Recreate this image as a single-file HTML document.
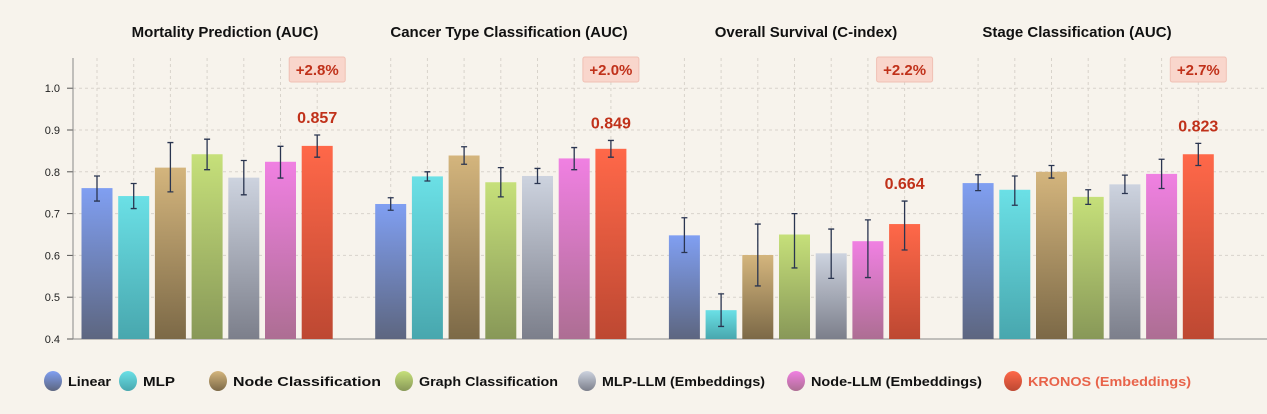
<!DOCTYPE html>
<html><head><meta charset="utf-8"><style>
body{margin:0;background:#f7f3ec;}
svg{display:block;font-family:"Liberation Sans",sans-serif;}
</style></head><body>
<svg id="c" width="1267" height="414"></svg>
<script>
const panels=["Mortality Prediction (AUC)","Cancer Type Classification (AUC)","Overall Survival (C-index)","Stage Classification (AUC)"];
const models=["Linear","MLP","Node Classification","Graph Classification","MLP-LLM (Embeddings)","Node-LLM (Embeddings)","KRONOS (Embeddings)"];
const values=[[0.761,0.742,0.810,0.842,0.786,0.824,0.862],[0.723,0.789,0.839,0.775,0.790,0.832,0.855],[0.648,0.469,0.601,0.650,0.605,0.634,0.675],[0.773,0.757,0.800,0.740,0.770,0.795,0.842]];
const lows=[[0.730,0.712,0.752,0.805,0.745,0.785,0.835],[0.708,0.778,0.818,0.740,0.772,0.805,0.835],[0.607,0.430,0.527,0.570,0.545,0.547,0.613],[0.755,0.720,0.785,0.722,0.748,0.760,0.815]];
const highs=[[0.790,0.772,0.870,0.878,0.827,0.861,0.888],[0.738,0.800,0.860,0.810,0.808,0.858,0.875],[0.690,0.508,0.675,0.700,0.663,0.685,0.730],[0.793,0.790,0.815,0.757,0.792,0.830,0.868]];
const valueLabels=["0.857","0.849","0.664","0.823"];
const gains=["+2.8%","+2.0%","+2.2%","+2.7%"];
const yTicks=[0.4,0.5,0.6,0.7,0.8,0.9,1.0];
const topC=["#809ff2","#6be0e6","#d4b57d","#c6e07a","#cdd3df","#f080e2","#ff6849"];
const botC=["#5d6680","#48a7ae","#7c6947","#889858","#7c7f8b","#ad6e93","#bd4832"];
const NS="http://www.w3.org/2000/svg";
const svg=document.getElementById('c');
function mk(t,a,p){const e=document.createElementNS(NS,t);for(const k in a)e.setAttribute(k,a[k]);(p||svg).appendChild(e);return e;}
const y=v=>339-(v-0.4)*418;
const defs=mk('defs',{});
topC.forEach((c,i)=>{const g=mk('linearGradient',{id:'g'+i,x1:0,y1:0,x2:0,y2:1},defs);mk('stop',{offset:0,'stop-color':c},g);mk('stop',{offset:1,'stop-color':botC[i]},g);});
yTicks.forEach(t=>{if(t>0.4){const l=mk('line',{x1:73,x2:1267,y1:y(t),y2:y(t),stroke:'#d8d3cb','stroke-dasharray':'3,3'});}
mk('line',{x1:67,x2:73,y1:y(t),y2:y(t),stroke:'#555'});
const tx=mk('text',{x:60,y:y(t)+4,'text-anchor':'end','font-size':11,fill:'#222'});tx.textContent=t.toFixed(1);
});
mk('line',{x1:73,x2:73,y1:58,y2:339,stroke:'#888'});
mk('line',{x1:73,x2:1267,y1:339,y2:339,stroke:'#888'});
const pitch=36.7,bw=31,panelStep=293.7,x0=97;
const titleX=[225,509,806,1077];
panels.forEach((p,pi)=>{
 const g=mk('g',{});
 const cx=x0+pi*panelStep;
 const t=mk('text',{x:titleX[pi],y:37,'text-anchor':'middle','font-size':15,'font-weight':'bold',fill:'#111'},g);t.textContent=p;
 
 values[pi].forEach((v,i)=>{
  const bx=cx+i*pitch;
  mk('line',{x1:bx,x2:bx,y1:58,y2:339,stroke:'#d8d3cb','stroke-dasharray':'3,3'},g);
  const r=mk('rect',{x:bx-bw/2,y:y(v),width:bw,height:339-y(v),fill:'url(#g'+i+')'},g);
  
  const e=mk('path',{d:`M${bx},${y(lows[pi][i])}V${y(highs[pi][i])}M${bx-3},${y(lows[pi][i])}h6M${bx-3},${y(highs[pi][i])}h6`,stroke:'#2a3550','stroke-width':1.3,fill:'none'},g);
  
 });
 const kx=cx+6*pitch;
 const vl=mk('text',{x:kx,y:y(highs[pi][6])-12,'text-anchor':'middle','font-size':16,'font-weight':'bold',fill:'#c0311a'},g);vl.textContent=valueLabels[pi];
 
 const b=mk('rect',{x:kx-28,y:57,width:56,height:25,rx:2,fill:'#f9d6cc',stroke:'#f0c0b4'},g);
 
 const bt=mk('text',{x:kx,y:75,'text-anchor':'middle','font-size':15,'font-weight':'bold',fill:'#c0311a'},g);bt.textContent=gains[pi];
});
const lx=[53,128,218,404,587,796,1013];
const lw=[43,32,148,139,163,171,163];
models.forEach((m,i)=>{
 const g=mk('g',{});
 mk('ellipse',{cx:lx[i],cy:381,rx:9,ry:10,fill:'url(#g'+i+')'},g);
 const t=mk('text',{x:lx[i]+15,y:386,'font-size':13,'font-weight':'bold',fill:i==6?'#e8634a':'#111',textLength:lw[i],lengthAdjust:'spacingAndGlyphs'},g);t.textContent=m;
});
</script>
</body></html>
